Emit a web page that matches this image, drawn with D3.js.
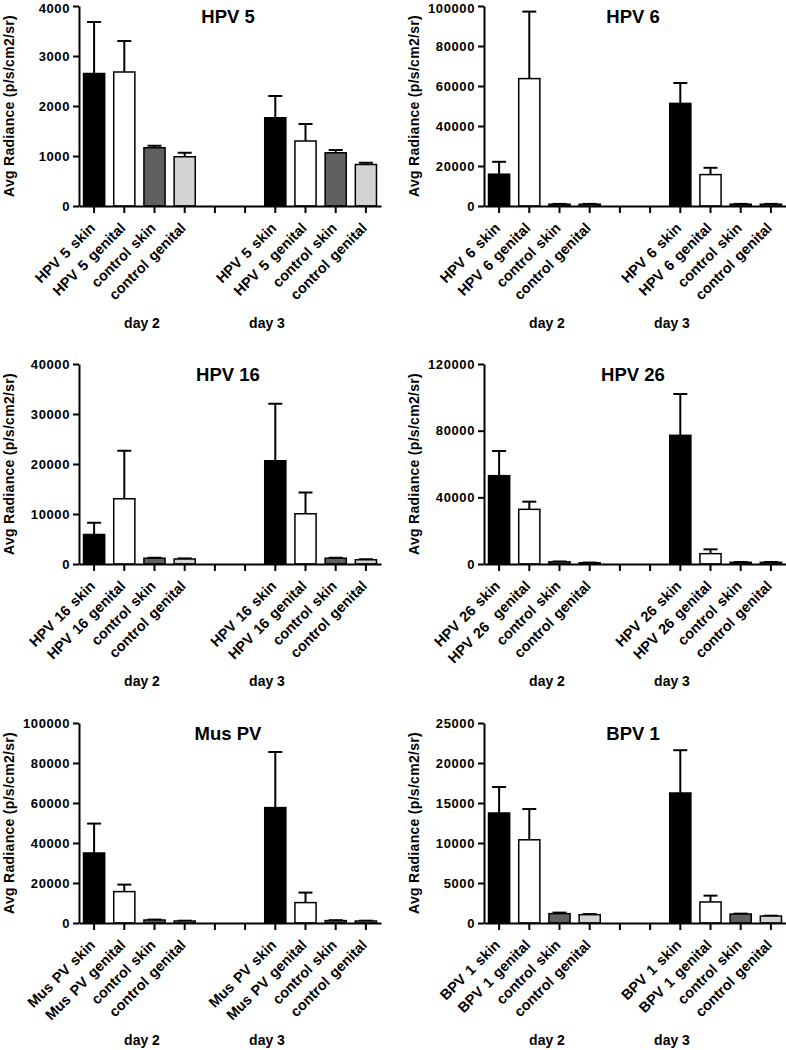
<!DOCTYPE html>
<html>
<head>
<meta charset="utf-8">
<script src="https://cdn.jsdelivr.net/npm/d3@7/dist/d3.min.js"></script>
<style>
  html, body { margin: 0; padding: 0; background: #fff; }
  svg { display: block; }
  text { font-family: "Liberation Sans", Arial, sans-serif; font-weight: bold; fill: #000; }
</style>
</head>
<body>
<svg id="chart" width="786" height="1050"></svg>
<script>
// ---------- data ----------
const panelTitles = ["HPV 5", "HPV 6", "HPV 16", "HPV 26", "Mus PV", "BPV 1"];
const dayLabels = ["day 2", "day 3"];
const yAxisTitle = "Avg Radiance (p/s/cm2/sr)";

const barLabels = [
  ["HPV 5 skin", "HPV 5 genital", "control skin", "control genital", "HPV 5 skin", "HPV 5 genital", "control skin", "control genital"],
  ["HPV 6 skin", "HPV 6 genital", "control skin", "control genital", "HPV 6 skin", "HPV 6 genital", "control skin", "control genital"],
  ["HPV 16 skin", "HPV 16 genital", "control skin", "control genital", "HPV 16 skin", "HPV 16 genital", "control skin", "control genital"],
  ["HPV 26 skin", "HPV 26  genital", "control skin", "control genital", "HPV 26 skin", "HPV 26 genital", "control skin", "control genital"],
  ["Mus PV skin", "Mus PV genital", "control skin", "control genital", "Mus PV skin", "Mus PV genital", "control skin", "control genital"],
  ["BPV 1 skin", "BPV 1 genital", "control skin", "control genital", "BPV 1 skin", "BPV 1 genital", "control skin", "control genital"]
];

const meanValues = [
  [2650, 2680, 1165, 985, 1765, 1300, 1065, 830],
  [15900, 63700, 900, 900, 51300, 15700, 900, 900],
  [5900, 13050, 1150, 1000, 20650, 10050, 1150, 850],
  [53000, 32800, 1300, 700, 77200, 6200, 1000, 1000],
  [35000, 15700, 1500, 1000, 57700, 10200, 1200, 1000],
  [13750, 10400, 1170, 1040, 16250, 2630, 1120, 870]
];

const semValues = [
  [1030, 620, 40, 80, 435, 340, 55, 35],
  [6200, 33500, 150, 150, 10200, 3400, 150, 150],
  [2350, 9600, 100, 120, 11400, 4250, 100, 100],
  [14800, 4600, 200, 150, 24800, 2600, 200, 200],
  [14700, 3500, 200, 150, 27800, 5000, 200, 150],
  [3250, 3850, 130, 80, 5350, 790, 50, 40]
];

const yMaxValues = [4000, 100000, 40000, 120000, 100000, 25000];
const yTickSteps = [1000, 20000, 10000, 40000, 20000, 5000];

// slot index on the category axis for each bar (slots 4 and 5 are the gap)
const barSlots = [0, 1, 2, 3, 6, 7, 8, 9];

// ---------- styles / layout ----------
const barFills = ["#000000", "#ffffff", "#606060", "#d3d3d3", "#000000", "#ffffff", "#606060", "#d3d3d3"];
const colX0 = [79, 484];
const rowTop = [6, 364, 723];
const plotH = 200;
const plotW = 302;
const FONT = "Liberation Sans, Arial, sans-serif";

const svg = d3.select("#chart");

panelTitles.forEach((title, p) => {
  const col = p % 2, row = Math.floor(p / 2);
  const x0 = colX0[col];
  const top = rowTop[row];
  const bottom = top + plotH;
  const g = svg.append("g");

  const x = d3.scaleBand()
    .domain(d3.range(10))
    .range([x0, x0 + plotW])
    .paddingInner(0.3)
    .paddingOuter(0.15);

  const y = d3.scaleLinear()
    .domain([0, yMaxValues[p]])
    .range([bottom, top]);

  const bars = barSlots.map((s, i) => ({
    slot: s, mean: meanValues[p][i], sem: semValues[p][i], fill: barFills[i], label: barLabels[p][i]
  }));

  // error bars (upper only)
  const eg = g.append("g").attr("stroke", "#000").attr("stroke-width", 2).attr("fill", "none");
  bars.forEach(d => {
    const cx = x(d.slot) + x.bandwidth() / 2;
    eg.append("line").attr("x1", cx).attr("x2", cx)
      .attr("y1", y(d.mean)).attr("y2", y(d.mean + d.sem));
    eg.append("line").attr("x1", cx - 7).attr("x2", cx + 7)
      .attr("y1", y(d.mean + d.sem)).attr("y2", y(d.mean + d.sem));
  });

  // bars
  g.append("g").selectAll("rect").data(bars).join("rect")
    .attr("x", d => x(d.slot))
    .attr("width", x.bandwidth())
    .attr("y", d => y(d.mean))
    .attr("height", d => y(0) - y(d.mean))
    .attr("fill", d => d.fill)
    .attr("stroke", "#000")
    .attr("stroke-width", 1.5);

  // y axis
  const ya = g.append("g")
    .attr("transform", `translate(${x0},0)`)
    .call(d3.axisLeft(y)
      .tickValues(d3.range(0, yMaxValues[p] + 1, yTickSteps[p]))
      .tickFormat(d3.format("d"))
      .tickSize(6)
      .tickSizeOuter(0)
      .tickPadding(3));
  ya.select(".domain").attr("stroke-width", 2);
  ya.selectAll(".tick line").attr("stroke-width", 2);
  ya.selectAll(".tick text")
    .style("font-size", "13px")
    .style("letter-spacing", "0.6px")
    .style("font-family", FONT)
    .style("font-weight", "bold");
  if (row === 0) {
    // keep the topmost tick label inside the page
    ya.selectAll(".tick").filter(v => v === yMaxValues[p]).select("text").attr("dy", "0.5em");
  }

  // x axis
  const labelBySlot = {};
  bars.forEach(d => { labelBySlot[d.slot] = d.label; });
  const xa = g.append("g")
    .attr("transform", `translate(0,${bottom})`)
    .call(d3.axisBottom(x)
      .tickSize(7)
      .tickSizeOuter(0)
      .tickFormat(s => labelBySlot[s] || ""));
  xa.select(".domain").attr("stroke-width", 2);
  xa.selectAll(".tick line").attr("stroke-width", 2);
  xa.selectAll(".tick text")
    .attr("y", 0).attr("dy", 0)
    .attr("transform", "translate(2,23) rotate(-45)")
    .style("text-anchor", "end")
    .style("white-space", "pre")
    .style("word-spacing", "1.5px")
    .style("font-size", "14.5px")
    .style("font-family", FONT)
    .style("font-weight", "bold");

  // day labels
  const dayX = [x0 + 63, x0 + 188];
  dayLabels.forEach((t, k) => {
    g.append("text")
      .attr("x", dayX[k]).attr("y", bottom + 122)
      .attr("text-anchor", "middle")
      .style("font-size", "14px")
      .text(t);
  });

  // title
  g.append("text")
    .attr("x", x0 + 149).attr("y", top + 17)
    .attr("text-anchor", "middle")
    .style("font-size", "18.5px")
    .text(title);

  // y axis title
  g.append("text")
    .attr("transform", `translate(${x0 - 65},${(top + bottom) / 2}) rotate(-90)`)
    .attr("text-anchor", "middle")
    .style("font-size", "14px")
    .style("letter-spacing", "0.3px")
    .text(yAxisTitle);
});
</script>
</body>
</html>
